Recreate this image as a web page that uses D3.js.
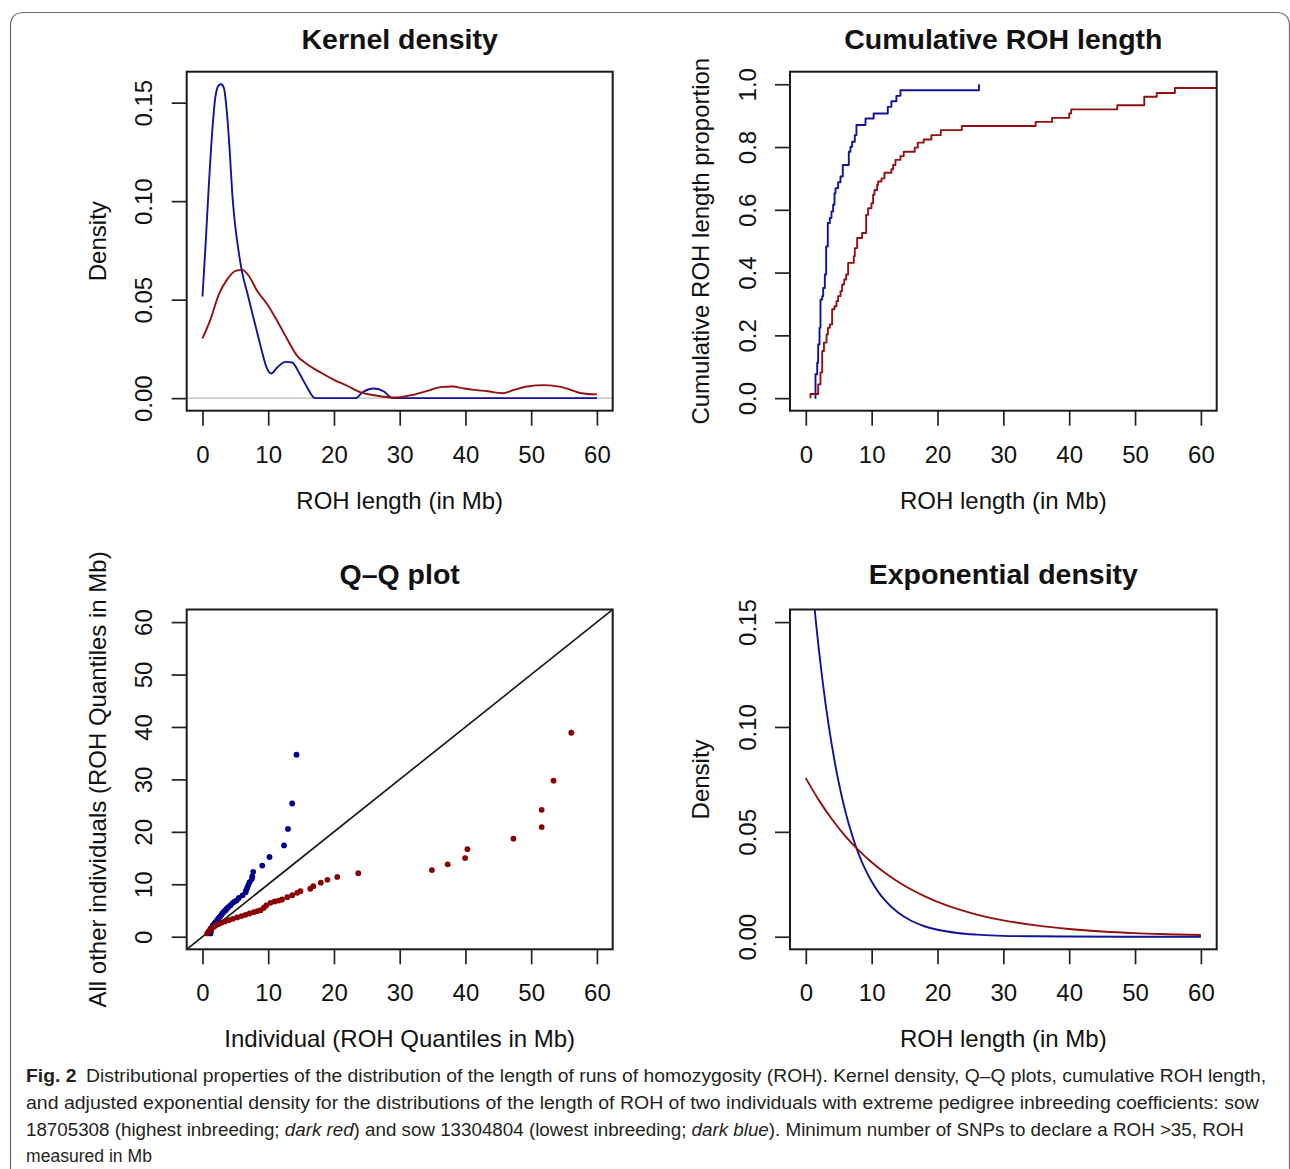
<!DOCTYPE html>
<html>
<head>
<meta charset="utf-8">
<script src="https://cdn.jsdelivr.net/npm/d3@7"></script>
<style>
  html, body { margin: 0; padding: 0; background: #fff; }
  svg { display: block; }
</style>
</head>
<body>
<svg id="fig" width="1290" height="1169"></svg>
<script>
// ---------- tick values ----------
const xTicks   = [0, 10, 20, 30, 40, 50, 60];
const kdTicks  = [0, 0.05, 0.10, 0.15];
const cumTicks = [0, 0.2, 0.4, 0.6, 0.8, 1.0];
const qqTicks  = [0, 10, 20, 30, 40, 50, 60];
const expTicks = [0, 0.05, 0.10, 0.15];

// ---------- kernel density (ROH length in Mb, density) ----------
// sow 13304804, lowest inbreeding (dark blue)
const kdBlueX = [0, 0.46, 0.96, 1.47, 1.98, 2.49, 2.84, 3.25, 3.76, 4.16, 4.52, 4.87, 5.38, 6.04, 6.8, 7.56, 8.32, 9.09, 9.75, 10.46, 11.37, 12.64, 13.65, 14.67, 15.94, 16.95, 17.46, 23.3, 24.3, 26.1, 27.6, 28.7, 29.3, 60];
const kdBlueY = [0.0516, 0.0772, 0.1077, 0.1347, 0.1533, 0.1588, 0.1593, 0.1575, 0.1432, 0.1246, 0.1043, 0.0908, 0.0772, 0.0637, 0.0536, 0.0434, 0.0333, 0.0232, 0.0156, 0.0125, 0.0156, 0.0184, 0.0181, 0.0130, 0.0054, 0.0003, 0, 0, 0.0029, 0.0049, 0.0034, 0.0003, 0, 0];
// sow 18705308, highest inbreeding (dark red)
const kdRedX = [0, 1.22, 2.49, 3.76, 5.03, 6.04, 7.06, 8.32, 9.85, 11.37, 12.9, 14.4, 15.94, 17.97, 20.0, 22.0, 24.06, 26.1, 29.1, 31.7, 34.2, 36.2, 38.0, 39.8, 41.3, 43.35, 45.6, 47.4, 49.4, 52.0, 54.5, 56.0, 57.6, 60];
const kdRedY = [0.0303, 0.0400, 0.0527, 0.0603, 0.0646, 0.0651, 0.0620, 0.0544, 0.0477, 0.0392, 0.0299, 0.0215, 0.0172, 0.0130, 0.0093, 0.0063, 0.0029, 0.0015, 0.0003, 0.0015, 0.0037, 0.0056, 0.0059, 0.0049, 0.0042, 0.0035, 0.0025, 0.0042, 0.0059, 0.0066, 0.0057, 0.0042, 0.0025, 0.0019];

// ---------- cumulative ROH length proportion (step positions, level reached) ----------
const cumBlueX = [1.40, 1.47, 1.73, 1.88, 2.08, 2.23, 2.49, 2.64, 2.89, 3.09, 3.34, 3.64, 3.90, 4.15, 4.36, 4.51, 4.91, 5.27, 5.62, 6.53, 6.78, 7.04, 7.44, 7.69, 9.06, 10.3, 12.45, 13.0, 13.76, 14.37, 26.3];
const cumBlueP = [0, 0.076, 0.113, 0.171, 0.224, 0.314, 0.325, 0.351, 0.394, 0.483, 0.558, 0.574, 0.595, 0.616, 0.653, 0.669, 0.688, 0.706, 0.743, 0.785, 0.801, 0.817, 0.838, 0.870, 0.891, 0.907, 0.928, 0.946, 0.963, 0.981, 1.0];
const cumRedX = [0.71, 0.71, 1.88, 2.23, 2.49, 2.75, 3.15, 3.35, 3.65, 4.0, 4.36, 4.66, 4.91, 5.27, 5.52, 5.83, 6.13, 6.43, 7.29, 7.44, 7.8, 8.55, 9.16, 9.46, 9.97, 10.22, 10.43, 10.83, 10.98, 11.49, 11.94, 13.0, 13.26, 13.61, 14.37, 14.87, 16.54, 17.0, 17.9, 19.07, 20.5, 23.7, 34.9, 37.4, 40.0, 40.3, 47.3, 51.4, 53.3, 56.05, 68];
const cumRedP = [0, 0.013, 0.044, 0.082, 0.150, 0.177, 0.203, 0.224, 0.235, 0.283, 0.293, 0.309, 0.325, 0.341, 0.362, 0.378, 0.394, 0.431, 0.452, 0.478, 0.510, 0.526, 0.584, 0.605, 0.621, 0.648, 0.663, 0.679, 0.690, 0.700, 0.718, 0.729, 0.743, 0.759, 0.771, 0.785, 0.798, 0.814, 0.824, 0.838, 0.854, 0.867, 0.880, 0.893, 0.907, 0.920, 0.933, 0.960, 0.972, 0.988, 1.0];

// ---------- Q-Q quantiles (individual vs. all other individuals) ----------
const qqBlueX = [1.22, 1.30, 1.22, 1.57, 1.80, 1.98, 2.20, 2.38, 2.56, 2.74, 2.92, 3.10, 3.30, 3.50, 3.70, 3.91, 4.26, 4.62, 4.85, 5.18, 5.53, 6.10, 6.55, 6.65, 6.80, 6.95, 7.16, 7.50, 7.57, 7.72, 9.09, 10.2, 12.4, 13.0, 13.65, 14.3];
const qqBlueY = [0.63, 1.10, 1.52, 2.15, 2.50, 2.78, 3.10, 3.42, 3.70, 3.93, 4.25, 4.56, 4.82, 5.07, 5.35, 5.64, 6.00, 6.46, 6.70, 6.90, 7.40, 7.90, 8.50, 8.90, 9.30, 9.80, 10.4, 11.0, 11.5, 12.37, 13.57, 15.2, 17.4, 20.55, 25.4, 34.7];
const qqRedX = [0.71, 0.96, 1.37, 1.73, 1.98, 2.38, 2.89, 3.40, 4.00, 4.62, 5.28, 5.94, 6.55, 7.16, 7.80, 8.33, 8.83, 9.34, 9.70, 10.35, 11.0, 11.6, 12.1, 12.9, 13.65, 14.4, 14.9, 16.4, 16.85, 18.0, 19.0, 20.5, 23.7, 34.9, 37.3, 39.95, 40.3, 47.3, 51.6, 51.6, 53.4, 56.1];
const qqRedY = [0.63, 1.07, 1.52, 1.90, 2.15, 2.40, 2.66, 2.91, 3.16, 3.42, 3.67, 3.93, 4.18, 4.43, 4.68, 4.87, 5.07, 5.52, 5.96, 6.47, 6.72, 6.90, 7.10, 7.54, 7.92, 8.37, 8.68, 9.15, 9.64, 10.3, 10.85, 11.4, 12.1, 12.7, 13.8, 15.0, 16.7, 18.7, 20.9, 24.2, 29.75, 38.9];

// ---------- adjusted exponential density ----------
const expBlueX = [1.0, 1.37, 1.7, 2, 2.5, 3, 3.5, 4, 4.5, 5, 6, 7, 8, 9, 10, 11, 12, 14, 16, 18, 20, 23, 26, 30, 35, 40, 50, 60];
const expBlueY = [0.168, 0.1553, 0.1451, 0.1364, 0.1231, 0.1110, 0.1002, 0.0904, 0.0815, 0.0735, 0.0598, 0.0487, 0.0396, 0.0323, 0.0263, 0.0214, 0.0174, 0.0115, 0.0076, 0.0050, 0.0033, 0.0018, 0.0010, 0.0004, 0.0002, 0.0001, 0, 0];
const expRedX = [0, 2, 4, 6, 8, 10, 12, 15, 18, 21, 25, 30, 35, 40, 45, 50, 55, 60];
const expRedY = [0.0756, 0.0650, 0.0559, 0.0480, 0.0413, 0.0355, 0.0305, 0.0243, 0.0194, 0.0154, 0.0114, 0.0078, 0.0054, 0.0037, 0.0025, 0.0017, 0.0012, 0.0008];

// ---------- styling ----------
const FONT = '"Liberation Sans", Arial, Helvetica, sans-serif';
const BLUE_LINE = "#12129a", RED_LINE = "#941010";
const BLUE_PT = "#00008b", RED_PT = "#8b0000";
const INK = "#111";
const AXIS_FS = 24;

const svg = d3.select("#fig");

// rounded frame round the figure
svg.append("path")
  .attr("d", "M10.5,1169 V26 Q10.5,12.5 24,12.5 H1276 Q1289.5,12.5 1289.5,26 V1169")
  .attr("fill", "none").attr("stroke", "#6a6a6a").attr("stroke-width", 1.2);

// each panel: a boxed plot region with outward ticks and rotated y labels (base-R look)
function panel(o) {
  const g = svg.append("g");
  const x = d3.scaleLinear().domain([-2.4, 62.4]).range([o.left, o.right]);
  const y = d3.scaleLinear().domain(o.yDom).range([o.bottom, o.top]);

  const clipId = "clip-" + o.id;
  svg.append("clipPath").attr("id", clipId).append("rect")
    .attr("x", o.left).attr("y", o.top)
    .attr("width", o.right - o.left).attr("height", o.bottom - o.top);
  const plot = g.append("g").attr("clip-path", `url(#${clipId})`);

  const ax = g.append("g")
    .attr("transform", `translate(0,${o.bottom})`)
    .call(d3.axisBottom(x).tickValues(xTicks).tickSize(15).tickPadding(20).tickFormat(d3.format("d")));
  ax.select(".domain").remove();
  ax.attr("font-family", FONT).attr("font-size", AXIS_FS);
  ax.selectAll("line").attr("stroke", "#222").attr("stroke-width", 1.7);
  ax.selectAll("text").attr("fill", INK);

  const ay = g.append("g")
    .attr("transform", `translate(${o.left},0)`)
    .call(d3.axisLeft(y).tickValues(o.yTicks).tickSize(15).tickFormat(o.yFmt));
  ay.select(".domain").remove();
  ay.attr("font-family", FONT).attr("font-size", AXIS_FS);
  ay.selectAll("line").attr("stroke", "#222").attr("stroke-width", 1.7);
  ay.selectAll("text")
    .attr("fill", INK)
    .attr("transform", "rotate(-90)")
    .attr("x", 0).attr("y", -34.5).attr("dy", null)
    .attr("text-anchor", "middle");

  g.append("rect")
    .attr("x", o.left).attr("y", o.top)
    .attr("width", o.right - o.left).attr("height", o.bottom - o.top)
    .attr("fill", "none").attr("stroke", "#1a1a1a").attr("stroke-width", 2);

  const cx = (o.left + o.right) / 2, cy = (o.top + o.bottom) / 2;
  g.append("text").text(o.title)
    .attr("x", cx).attr("y", o.top - o.titleGap)
    .attr("text-anchor", "middle").attr("font-family", FONT)
    .attr("font-weight", "bold").attr("font-size", 28.5).attr("fill", INK);
  g.append("text").text(o.xLabel)
    .attr("x", cx).attr("y", o.bottom + 98)
    .attr("text-anchor", "middle").attr("font-family", FONT)
    .attr("font-size", AXIS_FS).attr("fill", INK);
  g.append("text").text(o.yLabel)
    .attr("transform", `translate(${o.left - 81},${cy}) rotate(-90)`)
    .attr("text-anchor", "middle").attr("font-family", FONT)
    .attr("font-size", AXIS_FS).attr("fill", INK);

  return { x, y, plot };
}

const LEFT = [186.7, 612.7], RIGHT = [790, 1216.7];
const TOP = [71.7, 410.7], BOTTOM = [609.5, 949.3];

function drawLine(p, xs, ys, color, curve) {
  p.plot.append("path")
    .datum(d3.zip(xs, ys))
    .attr("fill", "none").attr("stroke", color).attr("stroke-width", 1.9)
    .attr("stroke-linejoin", "round")
    .attr("d", d3.line().x(d => p.x(d[0])).y(d => p.y(d[1])).curve(curve));
}

// Kernel density
const p1 = panel({
  id: "kd", left: LEFT[0], right: LEFT[1], top: TOP[0], bottom: TOP[1], titleGap: 23,
  yDom: [-0.00637, 0.1657], yTicks: kdTicks, yFmt: d3.format(".2f"),
  title: "Kernel density", xLabel: "ROH length (in Mb)", yLabel: "Density"
});
p1.plot.append("line")
  .attr("x1", LEFT[0]).attr("x2", LEFT[1]).attr("y1", p1.y(0)).attr("y2", p1.y(0))
  .attr("stroke", "#bdbdbd").attr("stroke-width", 1.3);
drawLine(p1, kdBlueX, kdBlueY, BLUE_LINE, d3.curveMonotoneX);
drawLine(p1, kdRedX, kdRedY, RED_LINE, d3.curveMonotoneX);

// Cumulative ROH length
const p2 = panel({
  id: "cum", left: RIGHT[0], right: RIGHT[1], top: TOP[0], bottom: TOP[1], titleGap: 23,
  yDom: [-0.04, 1.04], yTicks: cumTicks, yFmt: d3.format(".1f"),
  title: "Cumulative ROH length", xLabel: "ROH length (in Mb)", yLabel: "Cumulative ROH length proportion"
});
drawLine(p2, cumBlueX, cumBlueP, BLUE_LINE, d3.curveStepAfter);
drawLine(p2, cumRedX, cumRedP, RED_LINE, d3.curveStepAfter);

// Q-Q plot
const p3 = panel({
  id: "qq", left: LEFT[0], right: LEFT[1], top: BOTTOM[0], bottom: BOTTOM[1], titleGap: 26,
  yDom: [-2.4, 62.4], yTicks: qqTicks, yFmt: d3.format("d"),
  title: "Q\u2013Q plot", xLabel: "Individual (ROH Quantiles in Mb)", yLabel: "All other individuals (ROH Quantiles in Mb)"
});
p3.plot.append("line")
  .attr("x1", p3.x(-2.4)).attr("y1", p3.y(-2.4)).attr("x2", p3.x(62.4)).attr("y2", p3.y(62.4))
  .attr("stroke", "#111").attr("stroke-width", 1.6);
p3.plot.append("g").selectAll("circle").data(d3.zip(qqBlueX, qqBlueY)).join("circle")
  .attr("cx", d => p3.x(d[0])).attr("cy", d => p3.y(d[1])).attr("r", 2.9).attr("fill", BLUE_PT);
p3.plot.append("g").selectAll("circle").data(d3.zip(qqRedX, qqRedY)).join("circle")
  .attr("cx", d => p3.x(d[0])).attr("cy", d => p3.y(d[1])).attr("r", 2.9).attr("fill", RED_PT);

// Exponential density
const p4 = panel({
  id: "exp", left: RIGHT[0], right: RIGHT[1], top: BOTTOM[0], bottom: BOTTOM[1], titleGap: 26,
  yDom: [-0.006, 0.156], yTicks: expTicks, yFmt: d3.format(".2f"),
  title: "Exponential density", xLabel: "ROH length (in Mb)", yLabel: "Density"
});
drawLine(p4, expBlueX, expBlueY, BLUE_LINE, d3.curveMonotoneX);
drawLine(p4, expRedX, expRedY, RED_LINE, d3.curveMonotoneX);

// ---------- caption ----------
const captionLines = [
  { y: 1082, w: 1241, parts: [
    { t: "Fig. 2", b: true },
    { t: "\u2002Distributional properties of the distribution of the length of runs of homozygosity (ROH). Kernel density, Q\u2013Q plots, cumulative ROH length," }] },
  { y: 1109, w: 1234, parts: [
    { t: "and adjusted exponential density for the distributions of the length of ROH of two individuals with extreme pedigree inbreeding coefficients: sow" }] },
  { y: 1136, w: 1219, parts: [
    { t: "18705308 (highest inbreeding; " }, { t: "dark red", i: true },
    { t: ") and sow 13304804 (lowest inbreeding; " }, { t: "dark blue", i: true },
    { t: "). Minimum number of SNPs to declare a ROH >35, ROH" }] },
  { y: 1162, w: 126, parts: [{ t: "measured in Mb" }] }
];
captionLines.forEach(line => {
  const t = svg.append("text")
    .attr("font-family", FONT).attr("font-size", 18.5).attr("fill", "#231f20")
    .style("white-space", "pre");
  line.parts.forEach(p => {
    t.append("tspan").text(p.t)
      .attr("font-weight", p.b ? "bold" : null)
      .attr("font-style", p.i ? "italic" : null);
  });
  const w = t.node().getBBox().width;
  t.attr("transform", `translate(26,${line.y}) scale(${line.w / w},1)`);
});
</script>
</body>
</html>
